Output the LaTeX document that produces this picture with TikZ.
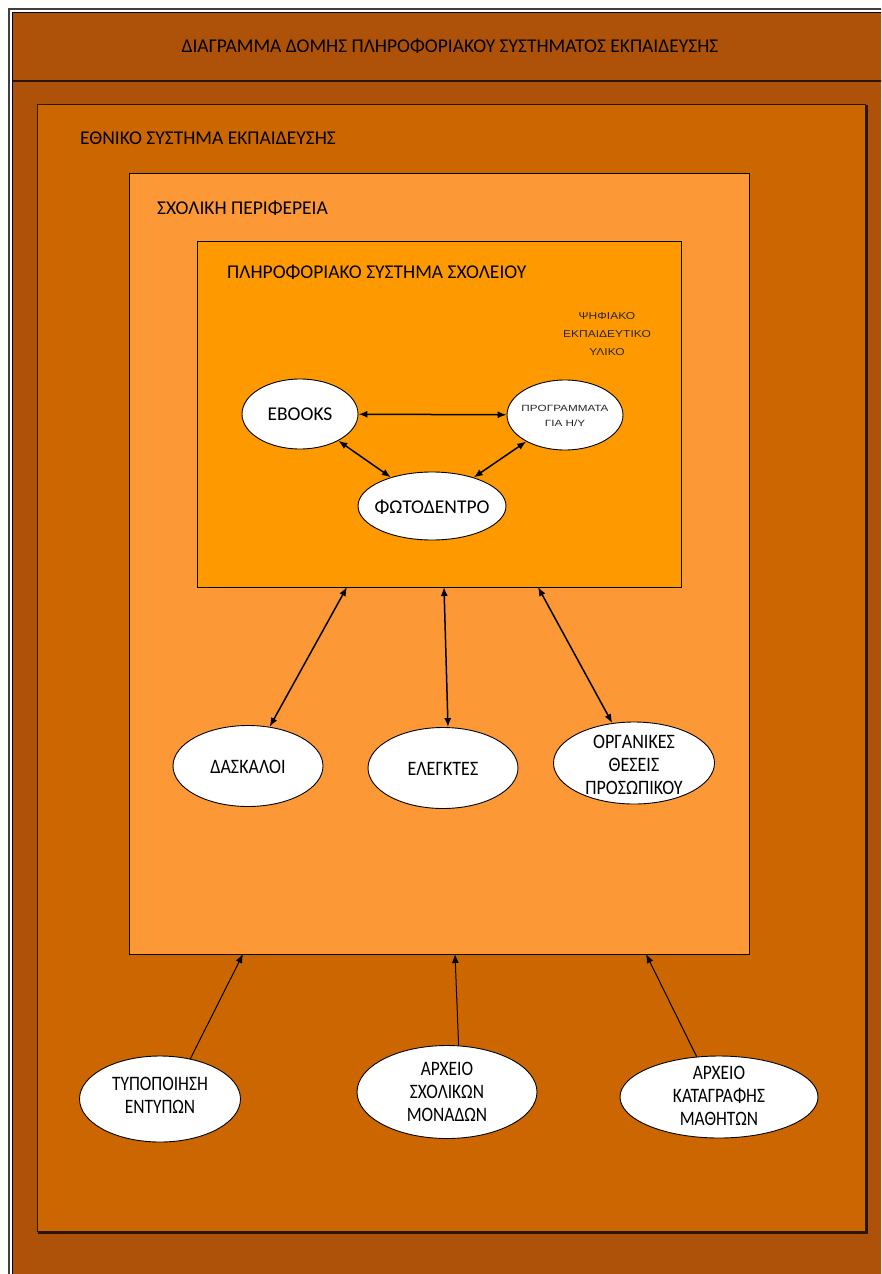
\documentclass[tikz,border=0pt]{standalone}
\usepackage{fontspec}
\usepackage{graphicx}
\setmainfont{Carlito}
\newfontfamily\arialf{Liberation Sans}
\usetikzlibrary{shapes.geometric,arrows.meta}
\definecolor{bgbrown}{RGB}{174,82,10}
\definecolor{natorange}{RGB}{204,102,0}
\definecolor{regorange}{RGB}{253,152,54}
\definecolor{schorange}{RGB}{255,153,0}
\definecolor{darkline}{RGB}{40,20,5}
\newcommand\cnd[3][7pt]{\makebox[0pt]{\smash{\raisebox{-#1}{\scalebox{#2}[1]{\begin{tabular}{@{}c@{}}#3\end{tabular}}}}}}
\begin{document}
\begin{tikzpicture}[x=1pt,y=-1pt,
  lbl/.style={inner sep=0pt, font=\fontsize{19.5}{23}\selectfont},
  small/.style={inner sep=0pt, align=center, text=black!85},
  box/.style={rectangle, inner sep=0pt, outer sep=0pt, anchor=north west},
  ell/.style={ellipse, draw=black, fill=white, line width=0.9pt, inner sep=0pt, font=\fontsize{19.5}{23}\selectfont},
  tall/.style={font=\fontsize{20.5}{23}\selectfont},
  darr/.style={{Latex[length=9pt,width=7pt]}-{Latex[length=9pt,width=7pt]}, line width=1.5pt},
  uarr/.style={-{Latex[length=9pt,width=7pt]}, line width=1pt}]
\useasboundingbox (0,0) rectangle (881,1274);
\clip (0,0) rectangle (881,1274);
\fill[white] (0,0) rectangle (881,1274);
\fill[bgbrown] (12,12) rectangle (890,1290);
\draw[line width=1.2pt, black!75] (9,1290) -- (9,9) -- (890,9);
\draw[line width=1.2pt, black] (12.5,1290) -- (12.5,12.5) -- (890,12.5);
\draw[line width=1.3pt, darkline] (13,81) -- (890,81);
\node[lbl] (title) at (450,46) {ΔΙΑΓΡΑΜΜΑ ΔΟΜΗΣ ΠΛΗΡΟΦΟΡΙΑΚΟΥ ΣΥΣΤΗΜΑΤΟΣ ΕΚΠΑΙΔΕΥΣΗΣ};
% national
\node[box, fill=natorange, draw=darkline, line width=1pt, minimum width=828pt, minimum height=1127pt] (nat) at (37,104) {};
\draw[line width=2pt, darkline] ([xshift=1.5pt,yshift=-1pt]nat.north east) -- ([xshift=1.5pt,yshift=-1.5pt]nat.south east) -- ([xshift=1pt,yshift=-1.5pt]nat.south west);
\node[lbl, anchor=west] (natlbl) at (80,138) {ΕΘΝΙΚΟ ΣΥΣΤΗΜΑ ΕΚΠΑΙΔΕΥΣΗΣ};
% region
\node[box, fill=regorange, draw=black, line width=1pt, minimum width=620pt, minimum height=781pt] (reg) at (129,173) {};
\node[lbl, anchor=west] (reglbl) at (157,208) {ΣΧΟΛΙΚΗ ΠΕΡΙΦΕΡΕΙΑ};
% school IS
\node[box, fill=schorange, draw=black, line width=1pt, minimum width=484pt, minimum height=346pt] (sch) at (197,241) {};
\node[lbl, anchor=west] (schlbl) at (227,272) {ΠΛΗΡΟΦΟΡΙΑΚΟ ΣΥΣΤΗΜΑ ΣΧΟΛΕΙΟΥ};
\node[small, font=\arialf\fontsize{10}{18}\selectfont] (dig) at (607,333) {\cnd[3pt]{1.2}{ΨΗΦΙΑΚΟ\\ΕΚΠΑΙΔΕΥΤΙΚΟ\\ΥΛΙΚΟ}};
% inner ellipses
\node[ell, minimum width=116pt, minimum height=70pt] (ebooks) at (300,414) {\cnd[7pt]{1}{EBOOKS}};
\node[ell, minimum width=116pt, minimum height=70pt, text=black!85, font=\arialf\fontsize{9}{15}\selectfont] (prog) at (565,415) {\cnd[3pt]{1.3}{ΠΡΟΓΡΑΜΜΑΤΑ\\ΓΙΑ Η/Υ}};
\node[ell, minimum width=148pt, minimum height=68pt] (foto) at (432,506) {\cnd[8pt]{1}{ΦΩΤΟΔΕΝΤΡΟ}};
\draw[darr] (ebooks) -- (prog);
\draw[darr] (ebooks) -- (foto);
\draw[darr] (foto) -- (prog);
% middle ellipses
\node[ell, tall, minimum width=150pt, minimum height=81pt] (dask) at (248,766) {\cnd[8pt]{0.88}{ΔΑΣΚΑΛΟΙ}};
\node[ell, tall, minimum width=150pt, minimum height=81pt] (eleg) at (443,768) {\cnd[8pt]{0.88}{ΕΛΕΓΚΤΕΣ}};
\node[ell, tall, minimum width=161pt, minimum height=82pt] (org) at (634,763) {\cnd[9pt]{0.88}{ΟΡΓΑΝΙΚΕΣ\\ΘΕΣΕΙΣ\\ΠΡΟΣΩΠΙΚΟΥ}};
\coordinate (s1) at (347,587);
\coordinate (s2) at (444,587);
\coordinate (s3) at (538,587);
\draw[darr] (s1) -- (dask);
\draw[darr] (s2) -- ([xshift=5pt]eleg.north);
\draw[darr] (s3) -- (org);
% bottom ellipses
\node[ell, tall, minimum width=161pt, minimum height=86pt] (typo) at (160,1099) {\cnd[4pt]{0.85}{ΤΥΠΟΠΟΙΗΣΗ\\ΕΝΤΥΠΩΝ}};
\node[ell, tall, minimum width=180pt, minimum height=93pt] (arxs) at (447,1092) {\cnd[7pt]{0.85}{ΑΡΧΕΙΟ\\ΣΧΟΛΙΚΩΝ\\ΜΟΝΑΔΩΝ}};
\node[ell, tall, minimum width=198pt, minimum height=82pt] (arxk) at (719,1097) {\cnd[6pt]{0.85}{ΑΡΧΕΙΟ\\ΚΑΤΑΓΡΑΦΗΣ\\ΜΑΘΗΤΩΝ}};
\coordinate (r1) at (243,954);
\coordinate (r2) at (455,954);
\coordinate (r3) at (646,954);
\draw[uarr] (typo.53) -- (r1);
\draw[uarr] (arxs.76) -- (r2);
\draw[uarr] (arxk.119) -- (r3);
\end{tikzpicture}
\end{document}
